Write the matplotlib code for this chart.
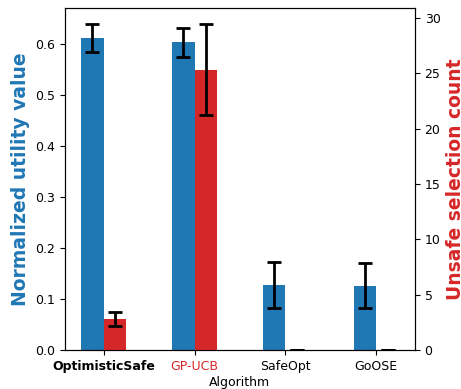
import numpy as np
import matplotlib.pyplot as plt

algorithms = ["OptimisticSafe", "GP-UCB", "SafeOpt", "GoOSE"]
utility_mean = [0.611, 0.603, 0.128, 0.126]
utility_err = [0.027, 0.028, 0.045, 0.044]
unsafe_mean = [2.8, 25.3, 0.0, 0.0]
unsafe_err = [0.6, 4.1, 0.0, 0.0]

blue = "#1f77b4"
red = "#d62728"

plt.rcParams["font.size"] = 9

fig = plt.figure(figsize=(4.61, 3.89), dpi=100)
ax1 = fig.add_axes([0.141, 0.1, 0.759, 0.879])
ax2 = ax1.twinx()

x = np.arange(len(algorithms))
w = 0.25
err_kw = dict(ecolor="black", elinewidth=2, capsize=5, capthick=2)

ax1.bar(x - w / 2, utility_mean, w, yerr=utility_err, color=blue, error_kw=err_kw)
ax2.bar(x + w / 2, unsafe_mean, w, yerr=unsafe_err, color=red, error_kw=err_kw)

ax1.set_xticks(x)
ax1.set_xticklabels(algorithms)
labels = ax1.get_xticklabels()
labels[0].set_fontweight("bold")
labels[1].set_color(red)
ax1.set_xlabel("Algorithm", labelpad=2)

ax1.set_ylabel("Normalized utility value", color=blue, fontsize=13.5, fontweight="bold")
ax2.set_ylabel("Unsafe selection count", color=red, fontsize=13.5, fontweight="bold")

plt.savefig("out.png", dpi=100)
